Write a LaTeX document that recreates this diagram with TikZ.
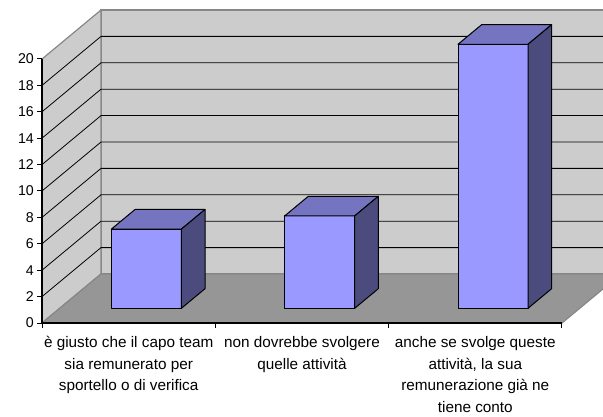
\documentclass[tikz,border=0pt]{standalone}
\usepackage{fontspec}
\setmainfont{Liberation Sans}
\usepackage{xcolor}
\usepackage{tikz}
\usetikzlibrary{positioning}
\definecolor{wallgrey}{HTML}{CCCCCC}
\definecolor{floorgrey}{HTML}{969696}
\definecolor{edgegrey}{HTML}{878787}
\definecolor{barfront}{HTML}{9999FF}
\definecolor{bartop}{HTML}{7474C0}
\definecolor{barside}{HTML}{4B4B7E}
\tikzstyle{wall} = [fill=wallgrey, draw=edgegrey, line width=1.2pt]
\tikzstyle{floorpane} = [fill=floorgrey, draw=edgegrey, line width=1.2pt]
\tikzstyle{grid} = [draw=black, line width=0.8pt]
\tikzstyle{axis} = [draw=black, line width=1.3pt]
\tikzstyle{face} = [draw=black, line width=1pt, line join=round]
\tikzstyle{ticklabel} = [inner sep=0pt, font=\fontsize{14.2}{16}\selectfont]
\tikzstyle{catlabel} = [anchor=north, align=center, inner sep=0pt, font=\fontsize{15.3}{21.5}\selectfont]

% bar with front face centred at #1, height #2
\newcommand{\cubebar}[2]{%
  \pgfmathsetmacro{\xl}{#1-35}%
  \pgfmathsetmacro{\xr}{#1+35}%
  \pgfmathsetmacro{\bh}{13.2*#2}%
  \pgfmathsetmacro{\yt}{308.3-\bh}%
  \draw[face, fill=barfront] (\xl,308.3) rectangle (\xr,\yt);
  \draw[face, fill=bartop] (\xl,\yt) -- ++(23.6,-19.6) -- ++(70,0) -- (\xr,\yt) -- cycle;
  \draw[face, fill=barside] (\xr,\yt) -- ++(23.6,-19.6) -- ++(0,\bh) -- (\xr,308.3) -- cycle;
}

\begin{document}
\begin{tikzpicture}[x=1pt, y=-1pt]
    \useasboundingbox (0,0) rectangle (603,417);
    \clip (0,0) rectangle (603,417);

    % walls and floor
    \draw[wall] (101,274) rectangle (621,10);
    \draw[wall] (42,323) -- (42,59) -- (101,10) -- (101,274) -- cycle;
    \draw[floorpane] (42,323) -- (562,323) -- (621,274) -- (101,274) -- cycle;

    \foreach \k in {1,...,9}
        \draw[grid] (42,{323-26.4*\k}) -- (101,{274-26.4*\k}) -- (621,{274-26.4*\k});

    % axes
    \draw[axis] (42,59) -- (42,323) -- (562,323);
    \foreach \v in {0,2,...,20} {
        \coordinate (tick\v) at (37,{323-13.2*\v});
        \draw[axis, line width=1pt] (tick\v) -- ++(5,0);
        \node[ticklabel, left=3pt of tick\v] (lab\v) {\v};
    }
    \foreach \i in {0,...,3}
        \draw[axis, line width=1pt] ({42+173.33*\i},323) -- ++(0,5);

    % bars
    \cubebar{146.4}{6}
    \cubebar{319.7}{7}
    \cubebar{493.0}{20}

    % categories
    \node[catlabel] (cat1) at (128.7,336.5) {è giusto che il capo team\\sia remunerato per\\sportello o di verifica};
    \node[catlabel] (cat2) at (302.0,336.5) {non dovrebbe svolgere\\quelle attività};
    \node[catlabel] (cat3) at (475.3,336.5) {anche se svolge queste\\attività, la sua\\remunerazione già ne\\tiene conto};

\end{tikzpicture}
\end{document}
